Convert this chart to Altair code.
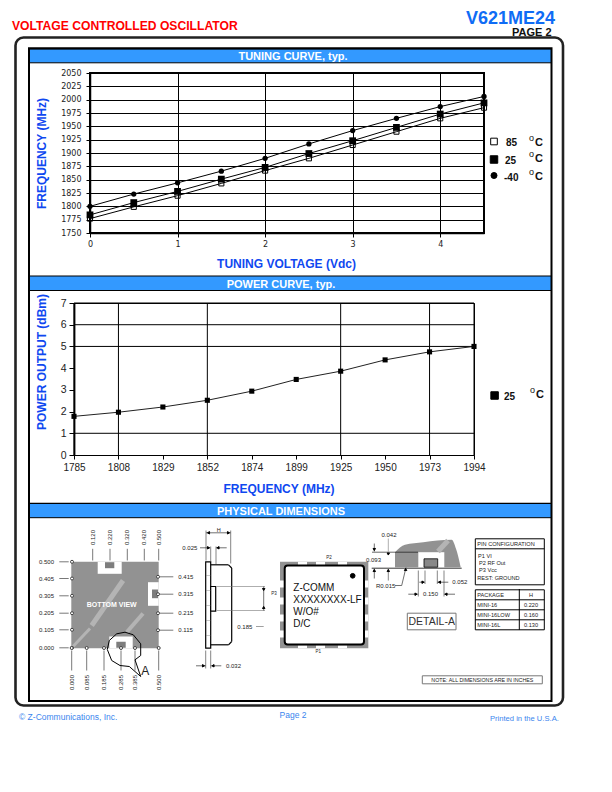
import altair as alt
import pandas as pd

# ---------- chart values ----------
VOLTAGE = [0, 0.5, 1, 1.5, 2, 2.5, 3, 3.5, 4, 4.5]
FREQ_M40 = [1800, 1823, 1844, 1866, 1890, 1917, 1942, 1965, 1987, 2006]
FREQ_25 = [1784, 1807, 1828, 1851, 1873, 1899, 1923, 1948, 1973, 1994]
FREQ_85 = [1777, 1799, 1820, 1843, 1867, 1890, 1915, 1940, 1965, 1985]
FREQ_TICKS = list(range(1750, 2051, 25))

POWER_FREQ = ["1785", "1808", "1829", "1852", "1874", "1899", "1925", "1950", "1973", "1994"]
POWER_DBM = [1.78, 1.97, 2.21, 2.52, 2.94, 3.48, 3.86, 4.38, 4.75, 5.0]
POWER_GRID_X = ["1785", "1808", "1852", "1925", "1973", "1994"]
POWER_GRID_Y = [1, 5, 6, 7]
POWER_TICKS = [0, 1, 2, 3, 4, 5, 6, 7]

TITLE_BLUE = "#0f48f0"
BANNER = "#3399ff"
SANS = "Liberation Sans"
WIDE = "DejaVu Sans"

# ---------- page furniture / mechanical drawing (page coordinates) ----------
OX, OY = 74.0, 684.5
rects, rules, texts, points = [], [], [], []


def RC(x, y, x2, y2, fill="transparent", stroke="transparent", w=0):
    rects.append(dict(x=x - OX, y=y - OY, x2=x2 - OX, y2=y2 - OY, fill=fill, stroke=stroke, w=w))


def RL(x, y, x2, y2, w=0.7, color="#333333"):
    rules.append(dict(x=x - OX, y=y - OY, x2=x2 - OX, y2=y2 - OY, w=w, color=color))


def TX(x, y, s, size=6, color="#222222", weight="normal", align="left", base="middle", angle=0, font=SANS):
    texts.append(dict(x=x - OX, y=y - OY, t=s, size=size, color=color, weight=weight, align=align,
                      base=base, angle=angle, font=font))


def PT(x, y, shape="circle", size=10, fill="black", stroke="black"):
    points.append(dict(x=x - OX, y=y - OY, shape=shape, size=size, fill=fill, stroke=stroke))


# extent of the whole page
RC(8, 8, 604, 784)

# banners
for top, bot in [(48.5, 62.3), (275.5, 290), (502.8, 517.2)]:
    RC(29.5, top, 551, bot, fill=BANNER)
    RL(29.5, bot, 551, bot, 1, "black")
    RL(29.5, top, 551, top, 1.2, "black")

# bottom view
HATCH = "#929292"
LIGHT = "#b4b4b4"
RC(71.3, 561.3, 158.7, 647.7, fill=HATCH)
RL(91.7, 625, 123, 580, 5, LIGHT)
RL(126.7, 631.7, 143, 613, 4, LIGHT)
RL(73, 646, 90, 628, 3, LIGHT)
for a, b, c, d in [(97.7, 561.3, 121.7, 573.3), (148, 581.7, 158.7, 605.3), (109.3, 636, 132.7, 647.7)]:
    RC(a, b, c, d, fill="white")
for a, b, c, d in [(105, 561.7, 114.3, 567.7), (152, 589, 158, 597.7), (116.3, 641.3, 125.7, 647.3)]:
    RC(a, b, c, d, fill="#7d7d7d")
TX(111.7, 604, "BOTTOM  VIEW", 7, "white", "bold", "center")

LEFT_Y = [561.3, 578, 595.3, 612.7, 629.3, 647.3]
LEFT_L = ["0.500", "0.405", "0.305", "0.205", "0.105", "0.000"]
for y, s in zip(LEFT_Y, LEFT_L):
    TX(39, y, s)
    RL(59.3, y, 68.7, y, 0.8, "#555555")
    PT(72, y, size=9, fill="white", stroke="#444444")
RIGHT_Y = [576.3, 593.7, 612.7, 629.7]
RIGHT_L = ["0.415", "0.315", "0.215", "0.115"]
for y, s in zip(RIGHT_Y, RIGHT_L):
    TX(178.3, y, s)
    RL(157, y, 173.3, y, 0.8, "#555555")
    PT(158, y, size=9, fill="white", stroke="#444444")
TOP_X = [92.7, 110, 127.3, 144.3, 158.7]
TOP_L = ["0.120", "0.220", "0.320", "0.420", "0.500"]
for x, s in zip(TOP_X, TOP_L):
    TX(x, 537, s, align="center", angle=270)
    RL(x, 548.3, x, 560, 0.8, "#555555")
BOT_X = [71.7, 86.7, 104, 121, 135, 158.7]
BOT_L = ["0.000", "0.085", "0.185", "0.285", "0.385", "0.500"]
for x, s in zip(BOT_X, BOT_L):
    TX(x, 682, s, align="center", angle=270)
    RL(x, 650, x, 670, 0.8, "#555555")
    PT(x, 647.5, size=9, fill="white", stroke="#444444")

# detail callout
CALLOUT = [(107.3, 649), (109.3, 640), (116.7, 633.3), (125, 631.7), (133.3, 634.3), (140.7, 643.3),
           (140.7, 655), (135, 659.3), (140.7, 676), (129.3, 666), (120, 665), (111.7, 660), (107.3, 649)]
for (a, b), (c, d) in zip(CALLOUT[:-1], CALLOUT[1:]):
    RL(a, b, c, d, 1, "black")
TX(145.3, 670.7, "A", 12, "#222222", align="center")

# side view
RC(210.7, 564.3, 231.7, 644.3, fill="white")
RC(205.7, 561.3, 210.7, 647.7, fill="white", stroke="black", w=1.2)
RC(210.7, 586, 215.7, 610.7, fill="white", stroke="black", w=1.2)
for a, b, c, d in [(210.7, 564.3, 228.5, 564.3), (228.5, 564.3, 231.7, 567.5), (231.7, 567.5, 231.7, 641),
                   (231.7, 641, 228.5, 644.3), (228.5, 644.3, 210.7, 644.3)]:
    RL(a, b, c, d, 1.2, "black")
for y in [575, 590, 605, 620, 635]:
    RL(206, y, 210.5, y, 0.4, "#777777")
TX(218.7, 529, "H", 5.5, align="center")
RL(206, 532.3, 230.7, 532.3, 0.7)
RL(206, 530, 206, 560, 0.6)
RL(230.7, 530, 230.7, 563, 0.6)
PT(208.5, 532.3, "triangle-left", 6)
PT(228.5, 532.3, "triangle-right", 6)
TX(182.3, 547.3, "0.025")
RL(200, 547.3, 210, 547.3, 0.7)
RL(216, 547.3, 226.7, 547.3, 0.7)
RL(210.7, 546, 210.7, 561, 0.6)
RL(216, 546, 216, 564, 0.6)
PT(208.5, 547.3, "triangle-right", 6)
PT(218, 547.3, "triangle-left", 6)
TX(237.3, 626, "0.185")
RL(256, 626, 263.7, 626, 0.7, "#777777")
RL(216.7, 586, 265, 586, 0.6, "#777777")
RL(216.7, 610, 265, 610, 0.6, "#777777")
RL(263.7, 586, 263.7, 610, 0.7)
PT(263.7, 589, "triangle-down", 6)
PT(263.7, 607, "triangle-up", 6)
TX(226, 665.3, "0.032")
RL(196, 665.3, 205.7, 665.3, 0.7)
RL(210.7, 665.3, 221.3, 665.3, 0.7)
RL(205.7, 650, 205.7, 668, 0.6)
RL(210.7, 650, 210.7, 668, 0.6)
PT(203.5, 665.3, "triangle-right", 6)
PT(213, 665.3, "triangle-left", 6)

# top view
RC(280, 561.3, 368.3, 647.7, fill=HATCH)
for y in [580, 597, 614, 630]:
    RC(280, y, 284, y + 7, fill="white")
    RC(364.5, y, 368.3, y + 7, fill="white")
for x in [298, 316, 338]:
    RC(x, 561.3, x + 9, 564.5, fill="white")
    RC(x, 644.8, x + 9, 647.7, fill="white")
TX(274, 593, "P3", 4.5, align="center")
TX(329, 557, "P2", 4.5, align="center")
TX(318.3, 651.3, "P1", 4.5, align="center")
rounded = [dict(x=284.7 - OX, y=565 - OY, x2=364 - OX, y2=644 - OY)]
PT(352.7, 575.3, size=22)
for y, s in zip([590.7, 602, 614, 626], ["Z-COMM", "XXXXXXXX-LF", "W/O#", "D/C"]):
    TX(293.3, y, s, 10, "#111111", base="alphabetic")

# detail A
DETAIL_X = [395, 405, 423.3, 451.7, 456, 460.7]
DETAIL_TOP = [551.7, 544.3, 541.7, 539.3, 548.3, 566.7]
DETAIL_BOT = [566.7, 566.7, 566.7, 566.7, 566.7, 566.7]
blob = [dict(x=a - OX, y=b - OY, y2=c - OY) for a, b, c in zip(DETAIL_X, DETAIL_TOP, DETAIL_BOT)]
RC(418.3, 551.7, 444.3, 568.3, fill="white")
RC(424, 558.3, 437.7, 566.7, fill="#888888", stroke="black", w=0.8)
RL(438, 551, 448, 540, 5, LIGHT)
RL(371.7, 567.7, 461.7, 567.7, 0.8, "black")
RL(372, 551.7, 418, 551.7, 0.6, "black")
TX(389, 534, "0.042", align="center")
TX(366, 559, "0.093")
TX(376, 585, "R0.015")
TX(452.3, 581.7, "0.052")
TX(423, 593.7, "0.150")
RL(374.3, 543, 374.3, 551, 0.7)
RL(374.3, 568, 374.3, 578, 0.7)
RL(388.3, 538, 388.3, 551, 0.6, "#777777")
RL(388.3, 568.5, 388.3, 580, 0.6)
PT(374.3, 549, "triangle-down", 6)
PT(374.3, 570, "triangle-up", 6)
PT(388.3, 553.5, "triangle-down", 6)
PT(388.3, 570, "triangle-up", 6)
RL(395, 585, 401.7, 585, 0.7)
RL(401.7, 585, 406, 567, 0.7)
PT(405.6, 569, "triangle-up", 6)
RL(425, 570, 425, 583.5, 0.6)
RL(437.3, 570, 437.3, 583.5, 0.6)
RL(419.3, 581.7, 425, 581.7, 0.7)
RL(437.3, 581.7, 448.3, 581.7, 0.7)
PT(423, 581.7, "triangle-right", 6)
PT(439.5, 581.7, "triangle-left", 6)
RL(418.3, 570, 418.3, 596, 0.6)
RL(444, 570, 444, 596, 0.6)
RL(408.3, 593.7, 418.3, 593.7, 0.7)
RL(444, 593.7, 455, 593.7, 0.7)
PT(416, 593.7, "triangle-right", 6)
PT(446, 593.7, "triangle-left", 6)
RC(407.3, 612.7, 456, 629.3, fill="white", stroke="#777777", w=1)
TX(431.7, 621, "DETAIL-A", 10.5, "#333333", align="center")

# pin tables
RC(475.3, 538.3, 544.3, 584.3, fill="white", stroke="black", w=1)
RL(475.3, 548.3, 544.3, 548.3, 1, "black")
TX(477.3, 543.7, "PIN CONFIGURATION", 5.6)
TX(478, 555, "P1  VI", 5.6)
TX(479, 562, "P2  RF Out", 5.6)
TX(479, 569, "P3  Vcc", 5.6)
TX(477.3, 577, "REST: GROUND", 5.6)
RC(475.3, 589.3, 544.3, 629.3, fill="white", stroke="black", w=1)
for y in [599.3, 609.3, 619.3]:
    RL(475.3, y, 544.3, y, 1, "black")
RL(519.3, 588.5, 519.3, 629.3, 1, "black")
for y, a, b in zip([594.2, 604, 614, 624], ["PACKAGE", "MINI-16", "MINI-16LOW", "MINI-16L"], ["H", "0.220", "0.160", "0.130"]):
    TX(477.3, y, a, 5.6)
    TX(531, y, b, 5.6, align="center")
RC(422.3, 675.3, 542.3, 683.3, fill="white", stroke="#777777", w=1)
TX(482.3, 679.3, "NOTE: ALL DIMENSIONS ARE IN INCHES", 5.3, align="center")

# header, footer
TX(12, 29.5, "VOLTAGE CONTROLLED OSCILLATOR", 12.15, "#ff0000", "bold", base="alphabetic")
TX(466, 23, "V621ME24", 18, "#0f6cf5", "bold", base="alphabetic")
TX(512, 35.3, "PAGE 2", 11, "#111111", "bold", base="alphabetic")
TX(293, 59.5, "TUNING CURVE, typ.", 11, "white", "bold", "center", "alphabetic")
TX(281, 287, "POWER CURVE, typ.", 11, "white", "bold", "center", "alphabetic")
TX(281, 514.3, "PHYSICAL DIMENSIONS", 11, "white", "bold", "center", "alphabetic")
TX(19, 719, "© Z-Communications, Inc.", 8.5, "#3a85ee", base="alphabetic")
TX(293, 717, "Page 2", 8.5, "#3a85ee", align="center", base="alphabetic")
TX(490, 720, "Printed in the U.S.A.", 7.6, "#3a85ee", base="alphabetic")

# series keys
PT(494, 141, "square", 44, "white", "black")
PT(494, 159, "square", 56)
PT(494, 175, "circle", 36)
PT(494.6, 395, "square", 56)
for y, s, x in [(142, "85", 506), (160, "25", 505), (177, "-40", 504), (396, "25", 504)]:
    TX(x, y, s, 10, "#111111", "bold")
for y, x in [(142, 535), (158, 535), (176, 535), (394, 536)]:
    TX(x, y, "C", 11, "#111111", "bold")
    TX(x - 6, y - 4.5, "o", 9, "#111111")

furn_rects = pd.DataFrame(rects)
furn_rules = pd.DataFrame(rules)
furn_texts = pd.DataFrame(texts)
furn_points = pd.DataFrame(points)

# ---------- furniture layers ----------
X = alt.X("x:Q", scale=None, axis=None)
Y = alt.Y("y:Q", scale=None, axis=None)

frame_outer = alt.Chart(pd.DataFrame([dict(x=15.5 - OX, y=37 - OY, x2=563 - OX, y2=705 - OY)])).mark_rect(
    cornerRadius=8, fill="transparent", stroke="#222222", strokeWidth=2.6
).encode(x=X, y=Y, x2="x2:Q", y2="y2:Q")
frame_inner = alt.Chart(pd.DataFrame([dict(x=29 - OX, y=47.7 - OY, x2=551.5 - OX, y2=700.5 - OY)])).mark_rect(
    fill="transparent", stroke="black", strokeWidth=2
).encode(x=X, y=Y, x2="x2:Q", y2="y2:Q")
blob_layer = alt.Chart(pd.DataFrame(blob)).mark_area(color=HATCH, interpolate="monotone").encode(
    x=X, y=Y, y2="y2:Q"
)
rect_layer = alt.Chart(furn_rects).mark_rect().encode(
    x=X, y=Y, x2="x2:Q", y2="y2:Q",
    fill=alt.Fill("fill:N", scale=None, legend=None),
    stroke=alt.Stroke("stroke:N", scale=None, legend=None),
    strokeWidth=alt.StrokeWidth("w:Q", scale=None, legend=None),
    order=alt.Order("idx:Q"),
).transform_window(idx="row_number()")
round_layer = alt.Chart(pd.DataFrame(rounded)).mark_rect(
    cornerRadius=3, fill="white", stroke="black", strokeWidth=2
).encode(x=X, y=Y, x2="x2:Q", y2="y2:Q")
rule_layer = alt.Chart(furn_rules).mark_rule().encode(
    x=X, y=Y, x2="x2:Q", y2="y2:Q",
    color=alt.Color("color:N", scale=None, legend=None),
    strokeWidth=alt.StrokeWidth("w:Q", scale=None, legend=None),
)
point_layer = alt.Chart(furn_points).mark_point(opacity=1, strokeWidth=1).encode(
    x=X, y=Y,
    shape=alt.Shape("shape:N", scale=None, legend=None),
    size=alt.Size("size:Q", scale=None, legend=None),
    fill=alt.Fill("fill:N", scale=None, legend=None),
    stroke=alt.Stroke("stroke:N", scale=None, legend=None),
)
text_layers = []
for (weight, align, base, angle), part in furn_texts.groupby(["weight", "align", "base", "angle"]):
    text_layers.append(
        alt.Chart(part).mark_text(font=SANS, fontWeight=weight, align=align, baseline=base, angle=int(angle)).encode(
            x=X, y=Y, text="t:N",
            size=alt.Size("size:Q", scale=None, legend=None),
            color=alt.Color("color:N", scale=None, legend=None),
        )
    )

furniture = alt.layer(
    blob_layer, rect_layer, rule_layer, round_layer, point_layer, frame_outer, frame_inner, *text_layers
).properties(width=400, height=100, view=alt.ViewBackground(stroke=None))

# ---------- tuning curve ----------
tuning_df = pd.DataFrame({"v": VOLTAGE, "m40": FREQ_M40, "t25": FREQ_25, "t85": FREQ_85})
tx = alt.X(
    "v:Q",
    scale=alt.Scale(domain=[0, 4.5], nice=False),
    axis=alt.Axis(
        values=VOLTAGE, grid=True, gridColor="black", gridWidth=1, gridOpacity=1, format="d",
        labelExpr="datum.value % 1 === 0 ? datum.label : ''", labelFlush=False,
        labelFont=WIDE, labelFontSize=8, labelColor="#222222", labelPadding=3,
        tickColor="black", tickSize=4, domainColor="black", domainWidth=1.5,
        title="TUNING VOLTAGE (Vdc)", titleFont=SANS, titleFontSize=12, titleFontWeight="bold",
        titleColor=TITLE_BLUE, titlePadding=10, titleX=196,
    ),
)


def ty(field):
    return alt.Y(
        f"{field}:Q",
        scale=alt.Scale(domain=[1750, 2050], nice=False, zero=False),
        axis=alt.Axis(
            values=FREQ_TICKS, grid=True, gridColor="black", gridWidth=1, gridOpacity=1, format="d",
            labelFlush=False, labelFont=WIDE, labelFontSize=8, labelColor="#222222", labelPadding=5,
            tickColor="black", tickSize=4, domainColor="black", domainWidth=1.5,
            title="FREQUENCY (MHz)", titleFont=SANS, titleFontSize=12, titleFontWeight="bold",
            titleColor=TITLE_BLUE, titlePadding=12,
        ),
    )


SERIES = [("t85", "square", 26, False), ("t25", "square", 46, True), ("m40", "circle", 28, True)]
base_t = alt.Chart(tuning_df)
t_layers = []
for field, shape, size, filled in SERIES:
    t_layers.append(base_t.mark_line(color="black", strokeWidth=1).encode(x=tx, y=ty(field)))
for field, shape, size, filled in SERIES:
    t_layers.append(
        base_t.mark_point(shape=shape, size=size, filled=filled, color="black", opacity=1, strokeWidth=1).encode(
            x=tx, y=ty(field)
        )
    )
tuning = alt.layer(*t_layers).properties(
    width=394, height=160, view=alt.ViewBackground(stroke="black", strokeWidth=2)
)

spacer = alt.Chart(pd.DataFrame({"a": [0]})).mark_point(opacity=0).encode(
    x=alt.value(0), y=alt.value(0)
).properties(width=16, height=1, view=alt.ViewBackground(stroke=None))
tuning_row = alt.hconcat(spacer, tuning, spacing=0, bounds="flush")

# ---------- power curve ----------
power_df = pd.DataFrame({"f": POWER_FREQ, "p": POWER_DBM})
px = alt.X(
    "f:O",
    sort=None,
    scale=alt.Scale(type="point", domain=POWER_FREQ, padding=0),
    axis=alt.Axis(
        grid=False, labelAngle=0, labelFlush=False, labelFont=SANS, labelFontSize=10, labelColor="#222222",
        labelPadding=3, tickColor="black", tickSize=4, domainColor="black", domainWidth=1.2,
        title="FREQUENCY (MHz)", titleFont=SANS, titleFontSize=12, titleFontWeight="bold",
        titleColor=TITLE_BLUE, titlePadding=11, titleX=204.5,
    ),
)
py = alt.Y(
    "p:Q",
    scale=alt.Scale(domain=[0, 7], nice=False),
    axis=alt.Axis(
        grid=False, values=POWER_TICKS, labelFlush=False, labelFont=SANS, labelFontSize=10.5, labelColor="#222222",
        labelPadding=3, tickColor="black", tickSize=5, domainColor="black", domainWidth=1.8,
        title="POWER OUTPUT (dBm)", titleFont=SANS, titleFontSize=12, titleFontWeight="bold",
        titleColor=TITLE_BLUE, titlePadding=12, titleY=58.5,
    ),
)
grid_x = alt.Chart(pd.DataFrame({"f": POWER_GRID_X})).mark_rule(color="black", strokeWidth=1).encode(x=px)
grid_y = alt.Chart(pd.DataFrame({"p": POWER_GRID_Y})).mark_rule(color="black", strokeWidth=1).encode(y=py)
p_line = alt.Chart(power_df).mark_line(color="#222222", strokeWidth=1).encode(x=px, y=py)
p_pts = alt.Chart(power_df).mark_point(shape="square", size=26, filled=True, color="black", opacity=1).encode(x=px, y=py)
power = alt.layer(grid_x, grid_y, p_line, p_pts).properties(
    width=400, height=152, view=alt.ViewBackground(stroke="black", strokeWidth=1)
)

chart = alt.vconcat(tuning_row, power, furniture, spacing=230, bounds="flush", padding=0).configure(
    background="white"
)
chart.save("out.html", embed_options={"renderer": "svg", "actions": False})
